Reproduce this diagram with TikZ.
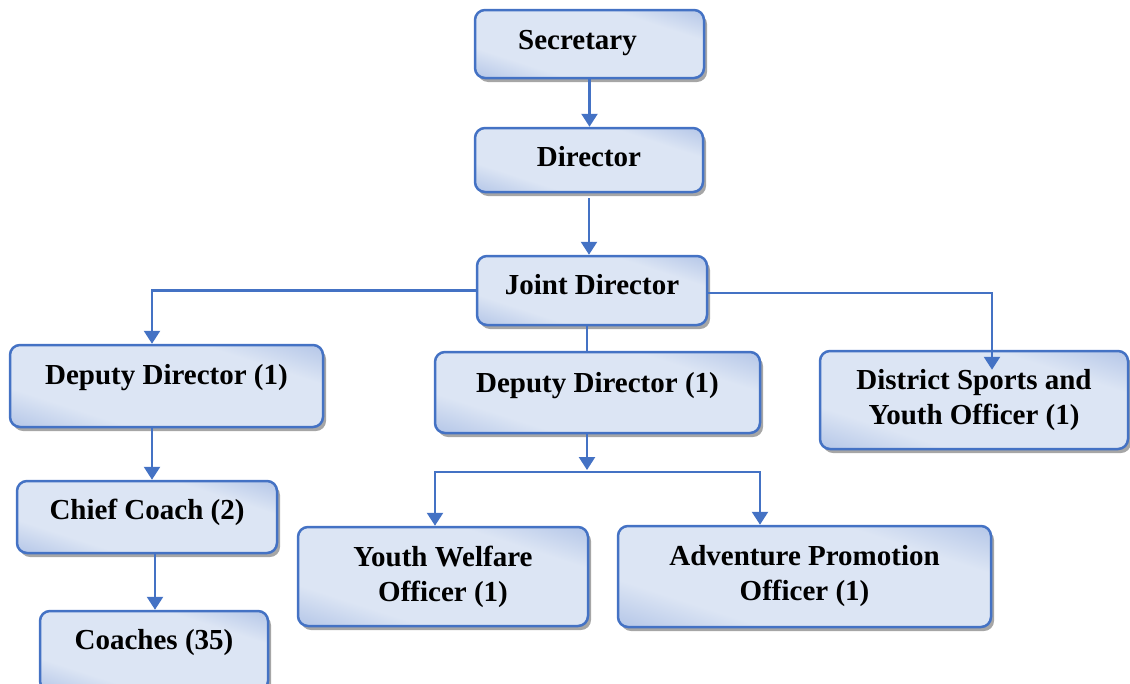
\documentclass[tikz,border=0pt]{standalone}
\usepackage{fontspec}
\setmainfont{Liberation Serif}
\usepackage{tikz}
\usetikzlibrary{shapes,arrows,fit, positioning, arrows.meta, shadows, calc}

\definecolor{boxline}{RGB}{68,114,196}
\definecolor{boxdark}{RGB}{140,167,219}
\definecolor{boxlight}{RGB}{220,229,244}
\pgfdeclareverticalshading{postshade}{100bp}{color(0bp)=(boxdark); color(5bp)=(boxdark);
  color(32bp)=(boxlight); color(68bp)=(boxlight); color(95bp)=(boxdark); color(100bp)=(boxdark)}

\tikzset{
  post/.style={draw=boxline, line width=2.5pt, rounded corners=10pt,
    shading=postshade, shading angle=-18,
    drop shadow={shadow xshift=3pt, shadow yshift=-4pt, fill=black!35, opacity=1},
    align=center, inner sep=0pt, font=\bfseries\fontsize{29}{35}\selectfont},
  oneline/.style={text height=20pt, text depth=#1},
  link/.style={draw=boxline, line width=2.5pt},
  arr/.style={link, -{Triangle[length=13pt,width=16pt]}}
}

\begin{document}
\begin{tikzpicture}[x=1pt,y=-1pt]
\useasboundingbox (0,0) rectangle (1130,683);

%Shape: Rounded Rect [top row]
\node [post, oneline=8.5pt, minimum width=229pt, minimum height=68pt] (secretary) at (589.5,44) {Secretary\hspace*{24pt}};
\node [post, oneline=6.5pt, minimum width=228pt, minimum height=64pt] (director) at (589,160) {Director};
\node [post, oneline=11.5pt, minimum width=230pt, minimum height=69pt] (joint) at (592,290.5) {Joint Director};
%Shape: Rounded Rect [second row]
\node [post, oneline=22.5pt, minimum width=313pt, minimum height=82pt] (deputyL) at (166.5,386) {Deputy Director (1)};
\node [post, oneline=19.5pt, minimum width=325pt, minimum height=81pt] (deputyM) at (597.5,392.5) {Deputy Director (1)};
\node [post, minimum width=308pt, minimum height=98pt] (district) at (974,400) {District Sports and\\Youth Officer (1)};
%Shape: Rounded Rect [lower rows]
\node [post, oneline=14.5pt, minimum width=260pt, minimum height=72pt] (chief) at (147,517) {Chief Coach (2)};
\node [post, oneline=22.5pt, minimum width=228pt, minimum height=80pt] (coaches) at (154,651) {Coaches (35)};
\node [post, minimum width=290pt, minimum height=99pt] (youth) at (443,576.5) {Youth Welfare\\Officer (1)};
\node [post, minimum width=373pt, minimum height=101pt] (adventure) at (804.5,576.5) {Adventure Promotion\\Officer (1)};

%Straight Lines
\draw [arr] (secretary.south) -- (secretary.south |- director.north);
\draw [arr] ($(director.south)+(0,5)$) -- (director.south |- joint.north);
\draw [arr] (joint.west) -| ($(deputyL.north)+(-14.5,0)$);
\draw [arr] ($(joint.east)+(0,2.5)$) -| ($(district.north)+(18,20)$);
\coordinate (jdown) at ($(joint.south)+(-5,0)$);
\draw [link] (jdown) -- (jdown |- deputyM.north);

%Straight Lines [left column]
\coordinate (lcol) at ($(deputyL.south)+(-14.5,0)$);
\draw [arr] (lcol) -- (lcol |- chief.north);
\coordinate (ccol) at ($(chief.south)+(8,0)$);
\draw [arr] (ccol) -- (ccol |- coaches.north);

%Straight Lines [middle branch]
\coordinate (split) at (587,472);
\draw [arr] (deputyM.south -| split) -- ($(split)+(0,-2)$);
\draw [arr] (split) -| ($(youth.north)+(-8,0)$);
\draw [arr] (split) -| ($(adventure.north)+(-44.5,0)$);
\end{tikzpicture}
\end{document}
